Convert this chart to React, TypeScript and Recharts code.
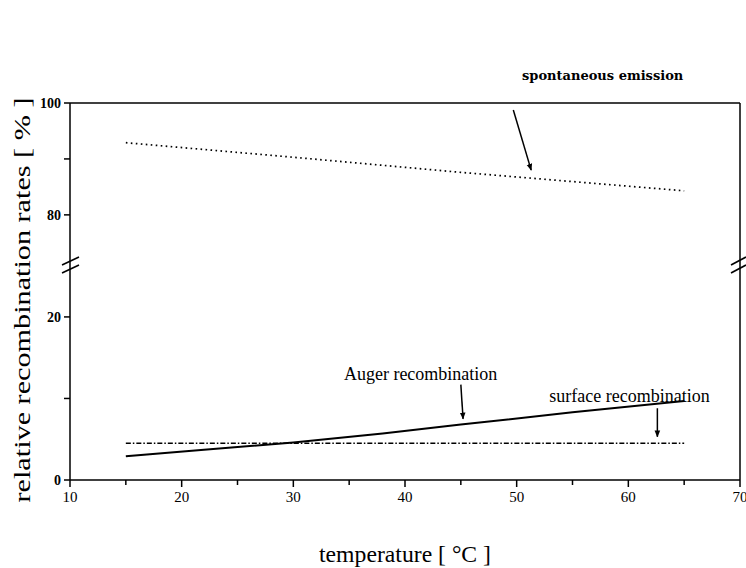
import { Label, Line, LineChart, ReferenceDot, ReferenceLine, XAxis, YAxis } from "recharts";

// temperature [°C] vs relative recombination rate [%]
const spontTemp = [15, 30, 45, 65];
const spontRate = [92.9, 90.3, 87.6, 84.3];
const augerTemp = [15, 22, 30, 38, 45, 55, 65];
const augerRate = [2.9, 3.7, 4.6, 5.7, 6.8, 8.3, 9.7];
const surfTemp = [15, 65];
const surfRate = [4.5, 4.5];

const xTicks = [10, 15, 20, 25, 30, 35, 40, 45, 50, 55, 60, 65, 70];
const yTicksUpper = [80, 90, 100];
const yTicksLower = [0, 10, 20];
const yLabelled = [0, 20, 80, 100];

const FONT = "'Liberation Serif', 'DejaVu Serif', serif";

const toPoints = (xs: number[], ys: number[]) => xs.map((x, i) => ({ x, y: ys[i] }));

// ticks drawn by hand so the unlabelled minor ones still get their stroke
function LeftTick({ x, y, payload }: any) {
  return (
    <g>
      <line x1={x - 6} y1={y} x2={x} y2={y} stroke="#000" strokeWidth={1.5} />
      {yLabelled.includes(payload.value) && (
        <text x={x - 9} y={y} dy={5} textAnchor="end" fontFamily={FONT} fontSize={14} fontWeight="bold" fill="#000">
          {payload.value}
        </text>
      )}
    </g>
  );
}

function RightTick({ x, y }: any) {
  return <line x1={x - 6} y1={y} x2={x} y2={y} stroke="#000" strokeWidth={1.5} />;
}

function BottomTick({ x, y, payload }: any) {
  const major = payload.value % 10 === 0;
  return (
    <g>
      <line x1={x} y1={y} x2={x} y2={y + (major ? 7 : 5)} stroke="#000" strokeWidth={1.5} />
      {major && (
        <text x={x} y={y + 22} textAnchor="middle" fontFamily={FONT} fontSize={15} fill="#000">
          {payload.value}
        </text>
      )}
    </g>
  );
}

const Arrow = (p: any) => (
  <line x1={p.x1} y1={p.y1} x2={p.x2} y2={p.y2} stroke="#000" strokeWidth={1.5} markerEnd="url(#arrowHead)" />
);

const ArrowDefs = () => (
  <defs>
    <marker id="arrowHead" viewBox="0 0 10 10" refX="9" refY="5" markerWidth="7" markerHeight="9" markerUnits="userSpaceOnUse" orient="auto">
      <path d="M0,1 L10,5 L0,9 z" fill="#000" />
    </marker>
  </defs>
);

const axisStroke = { stroke: "#000", strokeWidth: 1.5 };

export default function App() {
  const spont = toPoints(spontTemp, spontRate);
  const auger = toPoints(augerTemp, augerRate);
  const surf = toPoints(surfTemp, surfRate);

  return (
    <div style={{ position: "absolute", left: 0, top: 0, width: 746, height: 568, background: "#fff" }}>
      {/* upper segment, 70.5 .. 100 */}
      <div style={{ position: "absolute", left: 0, top: 0 }}>
        <LineChart width={746} height={268} margin={{ top: 102, right: 6, bottom: 0, left: 30 }}>
          <ArrowDefs />
          <XAxis
            xAxisId="x"
            dataKey="x"
            type="number"
            domain={[10, 70]}
            orientation="top"
            height={1}
            tick={false}
            tickLine={false}
            axisLine={axisStroke}
          />
          <YAxis
            yAxisId="l"
            type="number"
            domain={[70.5, 100]}
            ticks={yTicksUpper}
            interval={0}
            width={40}
            tick={<LeftTick />}
            tickSize={0}
            tickMargin={0}
            tickLine={false}
            axisLine={axisStroke}
          />
          <YAxis
            yAxisId="r"
            type="number"
            orientation="right"
            mirror
            domain={[70.5, 100]}
            ticks={yTicksUpper}
            interval={0}
            width={1}
            tick={<RightTick />}
            tickSize={0}
            tickMargin={0}
            tickLine={false}
            axisLine={axisStroke}
          />
          <Line
            xAxisId="x"
            yAxisId="l"
            data={spont}
            dataKey="y"
            type="linear"
            stroke="#000"
            strokeWidth={1.7}
            strokeDasharray="1.6 3.4"
            dot={false}
            isAnimationActive={false}
          />
          <ReferenceLine
            xAxisId="x"
            yAxisId="l"
            segment={[{ x: 49.7, y: 98.75 }, { x: 51.3, y: 88.0 }]}
            ifOverflow="visible"
            shape={Arrow}
          />
          <ReferenceDot xAxisId="x" yAxisId="l" x={57.7} y={105} r={0} ifOverflow="visible" stroke="none">
            <Label
              position="center"
              fontFamily="'DejaVu Serif', serif"
              fontSize={13}
              fontWeight="bold"
              fill="#000"
              value="spontaneous emission"
            />
          </ReferenceDot>
        </LineChart>
      </div>

      {/* lower segment, 0 .. 26 */}
      <div style={{ position: "absolute", left: 0, top: 0 }}>
        <LineChart width={746} height={568} margin={{ top: 268, right: 6, bottom: 58, left: 30 }}>
          <ArrowDefs />
          <XAxis
            xAxisId="x"
            dataKey="x"
            type="number"
            domain={[10, 70]}
            ticks={xTicks}
            interval={0}
            height={30}
            tick={<BottomTick />}
            tickSize={0}
            tickMargin={0}
            tickLine={false}
            axisLine={axisStroke}
          />
          <YAxis
            yAxisId="l"
            type="number"
            domain={[0, 26]}
            ticks={yTicksLower}
            interval={0}
            width={40}
            tick={<LeftTick />}
            tickSize={0}
            tickMargin={0}
            tickLine={false}
            axisLine={axisStroke}
          />
          <YAxis
            yAxisId="r"
            type="number"
            orientation="right"
            mirror
            domain={[0, 26]}
            ticks={yTicksLower}
            interval={0}
            width={1}
            tick={<RightTick />}
            tickSize={0}
            tickMargin={0}
            tickLine={false}
            axisLine={axisStroke}
          />
          <Line
            xAxisId="x"
            yAxisId="l"
            data={surf}
            dataKey="y"
            type="linear"
            stroke="#000"
            strokeWidth={1.4}
            strokeDasharray="5 2 1.5 2"
            dot={false}
            isAnimationActive={false}
          />
          <Line
            xAxisId="x"
            yAxisId="l"
            data={auger}
            dataKey="y"
            type="linear"
            stroke="#000"
            strokeWidth={2}
            dot={false}
            isAnimationActive={false}
          />
          <ReferenceLine
            xAxisId="x"
            yAxisId="l"
            segment={[{ x: 45.0, y: 11.7 }, { x: 45.2, y: 7.5 }]}
            ifOverflow="visible"
            shape={Arrow}
          />
          <ReferenceLine
            xAxisId="x"
            yAxisId="l"
            segment={[{ x: 62.6, y: 8.8 }, { x: 62.6, y: 5.3 }]}
            ifOverflow="visible"
            shape={Arrow}
          />
          <ReferenceDot xAxisId="x" yAxisId="l" x={41.4} y={13.1} r={0} ifOverflow="visible" stroke="none">
            <Label position="center" fontFamily={FONT} fontSize={18} fill="#000" value="Auger recombination" />
          </ReferenceDot>
          <ReferenceDot xAxisId="x" yAxisId="l" x={60.1} y={10.4} r={0} ifOverflow="visible" stroke="none">
            <Label position="center" fontFamily={FONT} fontSize={18} fill="#000" value="surface recombination" />
          </ReferenceDot>
        </LineChart>
      </div>

      {/* axis titles and the break marks */}
      <svg width={746} height={568} style={{ position: "absolute", left: 0, top: 0, pointerEvents: "none" }}>
        <text
          transform="translate(30,300) rotate(-90)"
          textAnchor="middle"
          fontFamily={FONT}
          fontSize={23}
          textLength={405}
          lengthAdjust="spacingAndGlyphs"
          fill="#000"
        >
          relative recombination rates [ % ]
        </text>
        <text
          x={405}
          y={562}
          textAnchor="middle"
          fontFamily={FONT}
          fontSize={23}
          textLength={172}
          lengthAdjust="spacingAndGlyphs"
          fill="#000"
        >
          temperature [ °C ]
        </text>
        <g stroke="#000" strokeWidth={1.6}>
          <line x1={62} y1={265} x2={79} y2={257} />
          <line x1={62} y1={273} x2={79} y2={265} />
          <line x1={731} y1={265} x2={746} y2={257} />
          <line x1={731} y1={273} x2={746} y2={265} />
        </g>
      </svg>
    </div>
  );
}
